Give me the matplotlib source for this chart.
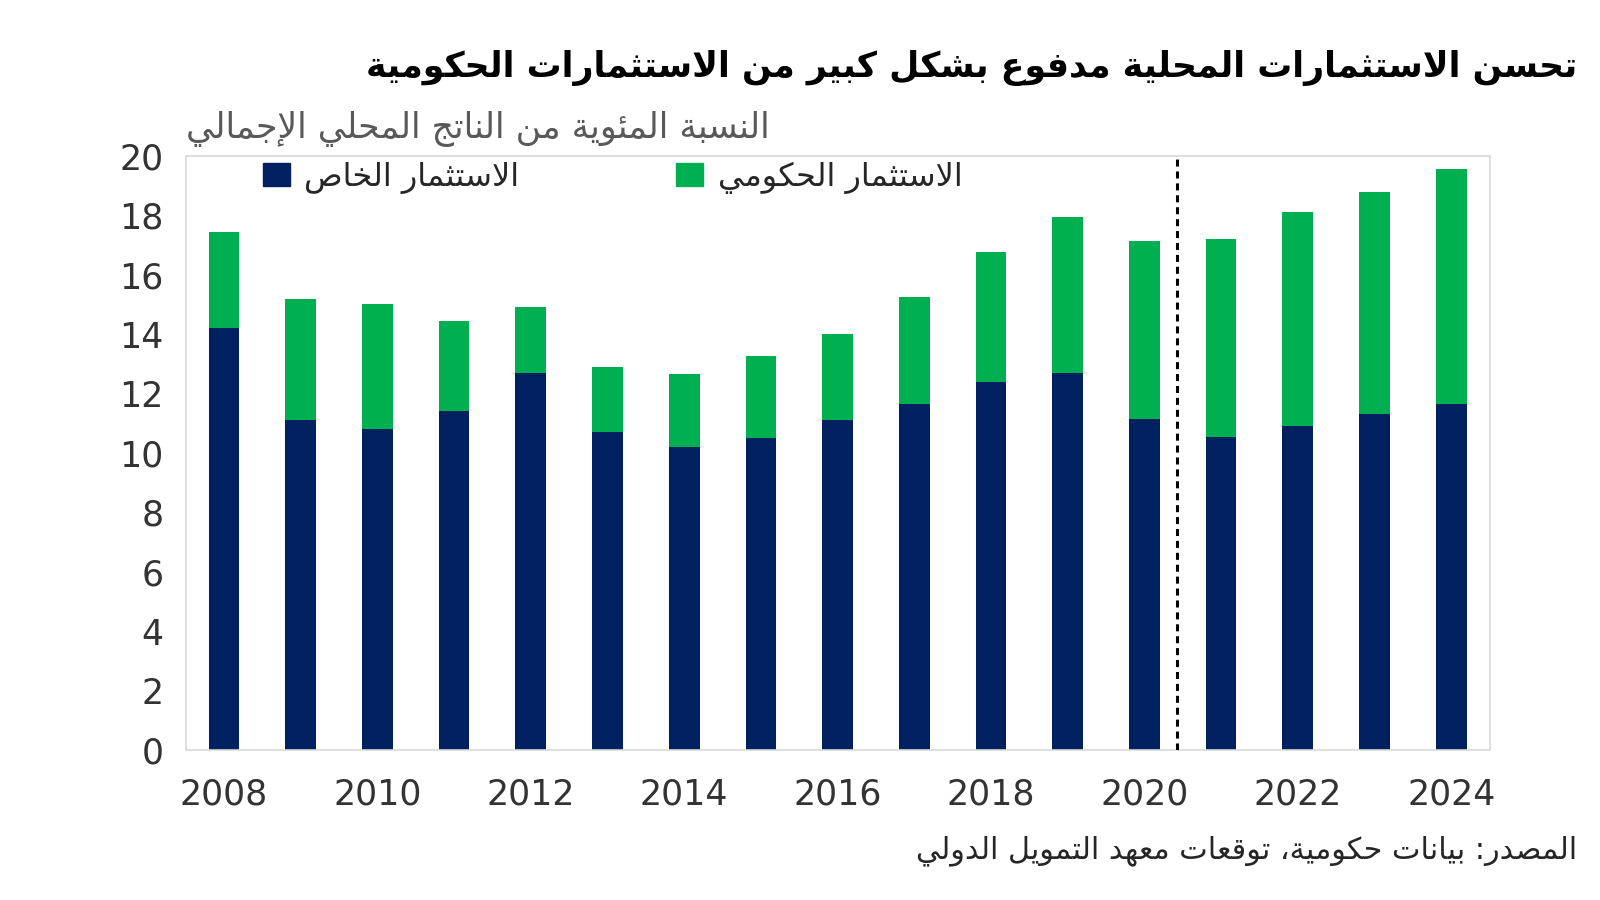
import numpy as np
import matplotlib
matplotlib.use("Agg")
import matplotlib.pyplot as plt
from matplotlib.patches import Patch

plt.rcParams['font.family'] = ['DejaVu Sans']

# values (% of GDP)
years = list(range(2008, 2025))
private_inv = [14.2, 11.1, 10.8, 11.4, 12.7, 10.7, 10.2, 10.5, 11.1, 11.65,
               12.4, 12.7, 11.15, 10.55, 10.9, 11.3, 11.65]
total_inv = [17.45, 15.2, 15.0, 14.45, 14.9, 12.9, 12.65, 13.25, 14.0, 15.25,
             16.75, 17.95, 17.15, 17.2, 18.1, 18.8, 19.55]
gov_inv = [t - p for t, p in zip(total_inv, private_inv)]
forecast_split = 2020.43

title = "تحسن الاستثمارات المحلية مدفوع بشكل كبير من الاستثمارات الحكومية"
ylabel = "النسبة المئوية من الناتج المحلي الإجمالي"
label_private = "الاستثمار الخاص"
label_gov = "الاستثمار الحكومي"
source = "المصدر: بيانات حكومية، توقعات معهد التمويل الدولي"

navy = "#002060"
green = "#00B050"

# matplotlib has no Arabic shaping: map letters to their joined presentation
# forms and reverse them for right-to-left display
_letters = "ءآأؤإئابةتثجحخدذرزسشصضطظعغفقكلمنهوىي"
_counts = [1, 2, 2, 2, 2, 4, 2, 4, 2, 4, 4, 4, 4, 4, 2, 2, 2, 2, 4, 4, 4, 4,
           4, 4, 4, 4, 4, 4, 4, 4, 4, 4, 4, 2, 2, 4]
_forms = {}
_pos = 0xFE80
for ch, n in zip(_letters, _counts):
    _forms[ch] = (_pos, n)
    _pos += n
_lamalef = {"آ": 0xFEF5, "أ": 0xFEF7, "إ": 0xFEF9, "ا": 0xFEFB}


def shape(text):
    chars = []
    i = 0
    while i < len(text):
        c = text[i]
        if c == "ل" and i + 1 < len(text) and text[i + 1] in _lamalef:
            chars.append(("LA", text[i + 1]))
            i += 2
        else:
            chars.append((c, None))
            i += 1

    def kind(item):
        c, extra = item
        if c == "LA":
            return 2
        if c in _forms:
            return _forms[c][1]
        return 0

    out = []
    for k, item in enumerate(chars):
        c, extra = item
        prev_joins = k > 0 and kind(chars[k - 1]) == 4
        nk = kind(item)
        next_joins = nk == 4 and k + 1 < len(chars) and kind(chars[k + 1]) > 1
        if c == "LA":
            base = _lamalef[extra]
            out.append(chr(base + (1 if prev_joins else 0)))
            continue
        if c not in _forms:
            out.append(c)
            continue
        base, n = _forms[c]
        if n == 1:
            out.append(chr(base))
            continue
        if prev_joins and next_joins:
            idx = 3
        elif prev_joins:
            idx = 1
        elif next_joins:
            idx = 2
        else:
            idx = 0
        out.append(chr(base + idx))
    return "".join(reversed(out))


fig = plt.figure(figsize=(16, 9), dpi=100)
ax = fig.add_axes([0.116, 0.1667, 0.815, 0.66])

ax.bar(years, private_inv, width=0.4, color=navy, zorder=2)
ax.bar(years, gov_inv, width=0.4, bottom=private_inv, color=green, zorder=2)
ax.axvline(forecast_split, color="black", lw=2.2, linestyle=(0, (2.3, 1.6)), zorder=3)

ax.set_xlim(2007.5, 2024.5)
ax.set_ylim(0, 20)
ax.set_yticks(np.arange(0, 21, 2))
ax.set_xticks(years[::2])
ax.tick_params(axis="both", length=0, labelsize=25, colors="#333333")
ax.tick_params(axis="y", pad=16)
ax.tick_params(axis="x", pad=20)
for sp in ax.spines.values():
    sp.set_color("#D9D9D9")
    sp.set_linewidth(1.2)

handles = [Patch(color=navy, label=shape(label_private)),
           Patch(color=green, label=shape(label_gov))]
ax.legend(handles=handles, ncols=2, loc="upper left", bbox_to_anchor=(0.0495, 1.012),
          borderaxespad=0, frameon=False, fontsize=23, handlelength=0.85,
          handleheight=0.75, handletextpad=0.45, columnspacing=4.9,
          labelcolor="#262626")

fig.text(0.116, 0.857, shape(ylabel), fontsize=25, color="#595959",
         ha="left", va="center")
fig.text(0.986, 0.925, shape(title), fontsize=25, fontweight="bold", color="black",
         ha="right", va="center")
fig.text(0.986, 0.055, shape(source), fontsize=21.8, color="#262626",
         ha="right", va="center")

fig.savefig("out.png", dpi=100, facecolor="white")
